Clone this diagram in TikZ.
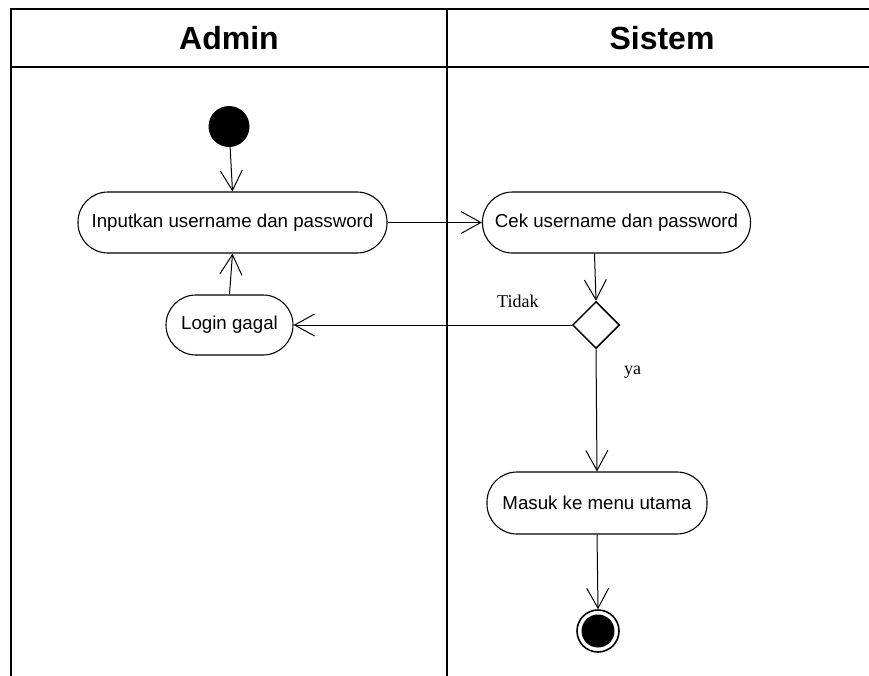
\documentclass[tikz,border=0pt]{standalone}
\usepackage{fontspec}
\setmainfont{Liberation Sans}
\newfontfamily\labelfont{Liberation Serif}
\usetikzlibrary{arrows.meta,shapes.geometric}

\begin{document}
\begin{tikzpicture}[x=1pt,y=-1pt,
  lane/.style={line width=2pt},
  act/.style={draw, line width=1.1pt, rounded corners=30pt, minimum height=61pt,
    inner sep=0pt, font=\fontsize{18.7}{22}\selectfont},
  flow/.style={line width=1pt, -{Straight Barb[length=20pt,width=22pt]}},
  guard/.style={font=\labelfont\fontsize{18}{21}\selectfont, anchor=base west, inner sep=0pt},
  head/.style={font=\bfseries\fontsize{32}{36}\selectfont, anchor=base, inner sep=0pt}
]
\useasboundingbox (0,0) rectangle (869,675);

% swimlane frame
\draw[lane] (11,680) -- (11,9) -- (875,9);
\draw[lane] (11,67) -- (875,67);
\draw[lane] (447,9) -- (447,680);
\node[head] (hadmin) at (229,49) {Admin};
\node[head] (hsistem) at (662,49) {Sistem};

% start and end
\node[circle, fill=black, minimum size=41pt, inner sep=0pt] (start) at (229,126.5) {};
\node[circle, draw, line width=1.6pt, minimum size=42pt, inner sep=0pt] (end) at (598,631) {};
\fill (end.center) circle (16.5pt);

% activities
\node[act, minimum width=309pt] (inp) at (232.5,222.5) {Inputkan username dan password};
\node[act, minimum width=268pt] (cek) at (616.5,222.5) {Cek username dan password};
\node[act, minimum width=127pt, minimum height=60pt] (login) at (229.5,325) {Login gagal};
\node[act, minimum width=220pt, minimum height=62pt] (masuk) at (597,503) {Masuk ke menu utama};

% decision
\node[diamond, draw, line width=1.5pt, minimum width=47pt, minimum height=47pt, inner sep=0pt] (dec) at (596,325) {};

% flows
\draw[flow] (start) -- (inp.north);
\draw[flow] (inp) -- (cek);
\draw[flow] ([xshift=-22pt]cek.south) -- (dec.north);
\draw[flow] (dec.west) -- (login.east);
\draw[flow] (login.north) -- (inp.south);
\draw[flow] (dec.south) -- (masuk.north);
\draw[flow] (masuk.south) -- (end.north);

% guards
\node[guard] (tidak) at (497,307) {Tidak};
\node[guard] (ya) at (624,374) {ya};
\end{tikzpicture}
\end{document}
